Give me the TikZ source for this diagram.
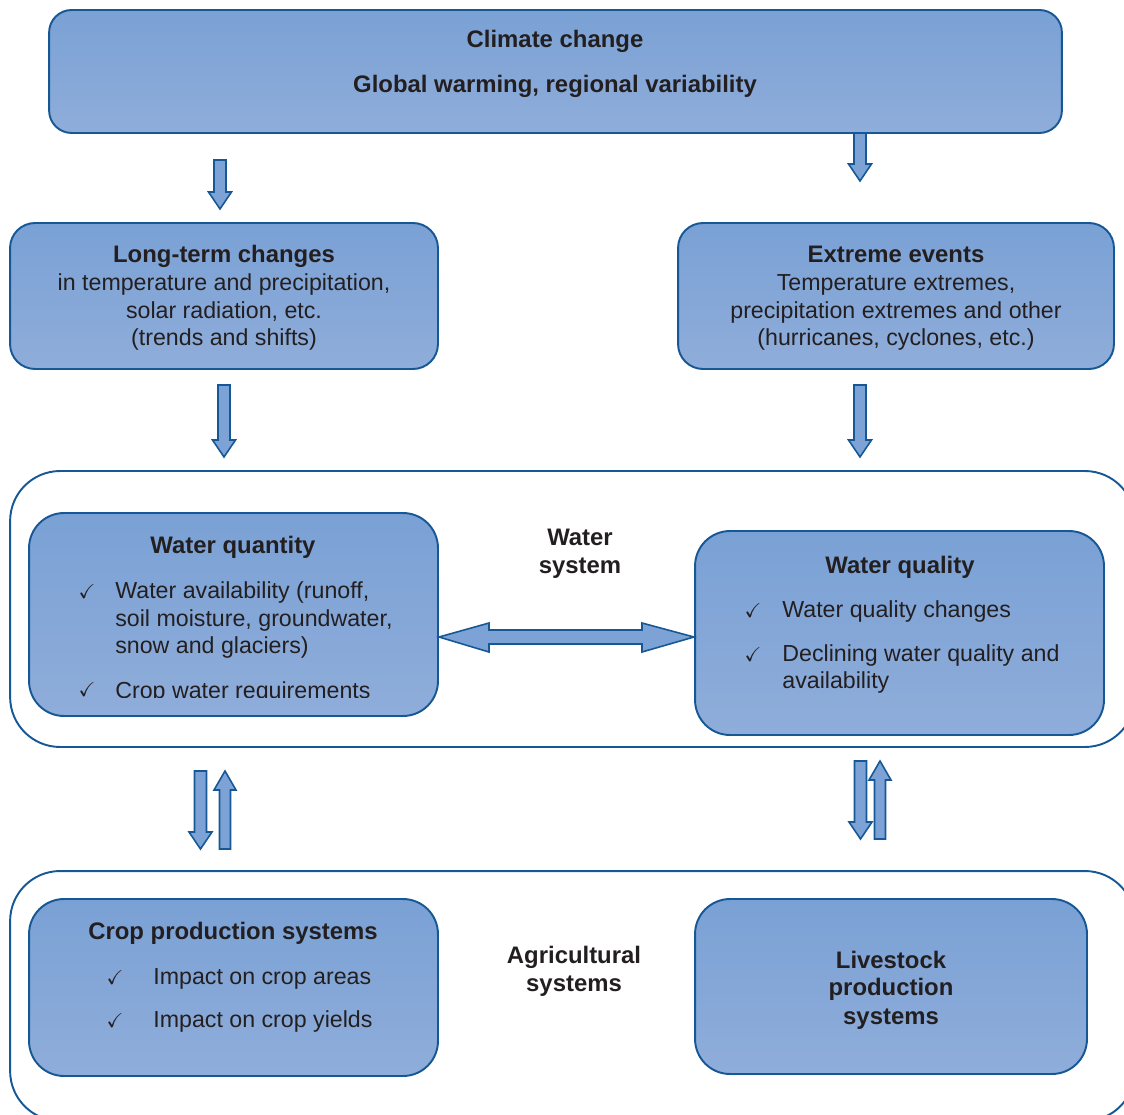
\documentclass[tikz,border=0pt]{standalone}
\usepackage{fontspec}
\setmainfont{Liberation Sans}
\usepackage{amssymb}
\usepackage{tikz}

\definecolor{boxline}{RGB}{22,88,150}
\definecolor{boxtop}{RGB}{122,161,213}
\definecolor{boxbot}{RGB}{143,173,218}
\definecolor{arrowfill}{RGB}{125,162,213}
\definecolor{txt}{RGB}{35,31,32}

\tikzset{
	panel/.style={draw=boxline, line width=1.1pt, top color=boxtop, bottom color=boxbot, rounded corners=0.7cm},
	frame/.style={draw=boxline, line width=1.1pt, rounded corners=1cm},
	blockarrow/.style={draw=boxline, line width=0.9pt, fill=arrowfill, line join=miter},
	lbl/.style={font=\fontsize{13.2}{15.8}\selectfont, text=txt, inner sep=0pt, yshift=-0.03cm},
	head/.style={lbl, font=\fontsize{13.6}{15.8}\selectfont\bfseries},
}

% block arrows: x, y of tail, y of tip
\newcommand{\dnarrow}[3]{\draw[blockarrow] (#1-6,#2) -- (#1+6,#2) -- (#1+6,#3-17) -- (#1+11.5,#3-17) -- (#1,#3) -- (#1-11.5,#3-17) -- (#1-6,#3-17) -- cycle;}
\newcommand{\uparrowblk}[3]{\draw[blockarrow] (#1-5.5,#2) -- (#1+5.5,#2) -- (#1+5.5,#3+19) -- (#1+11,#3+19) -- (#1,#3) -- (#1-11,#3+19) -- (#1-5.5,#3+19) -- cycle;}
\newcommand{\chk}{{\fontsize{11.5}{13}\selectfont$\checkmark$}}

\begin{document}
\begin{tikzpicture}[x=0.02cm, y=-0.02cm]
	\useasboundingbox (0,0) rectangle (1124,1114);
	\clip (0,0) rectangle (1124,1114);

	% outer frames
	\node[frame, minimum width=22.5cm, minimum height=5.52cm] (watersys) at (572.5,609) {};
	\node[frame, minimum width=22.5cm, minimum height=5cm] (agrisys) at (572.5,996) {};

	% boxes
	\node[panel, rounded corners=0.45cm, minimum width=20.26cm, minimum height=2.46cm] (climate) at (555.5,71.5) {};
	\node[panel, rounded corners=0.5cm, minimum width=8.56cm, minimum height=2.92cm] (longterm) at (224,296) {};
	\node[panel, rounded corners=0.5cm, minimum width=8.72cm, minimum height=2.92cm] (extreme) at (896,296) {};
	\node[panel, minimum width=8.18cm, minimum height=4.06cm] (quantity) at (233.5,614.5) {};
	\node[panel, minimum width=8.18cm, minimum height=4.08cm] (quality) at (899.5,633) {};
	\node[panel, minimum width=8.18cm, minimum height=3.54cm] (crop) at (233.5,987.5) {};
	\node[panel, minimum width=7.84cm, minimum height=3.5cm] (livestock) at (891,986.5) {};

	% arrows
	\dnarrow{220}{160}{209}
	\dnarrow{860}{133}{181}
	\dnarrow{224}{385}{457}
	\dnarrow{860}{385}{457}
	\dnarrow{200.5}{771}{849}
	\uparrowblk{225}{849}{771}
	\dnarrow{860.5}{761}{839}
	\uparrowblk{880}{839}{761}
	\draw[blockarrow] (439,637) -- (489,623) -- (489,630) -- (642,630) -- (642,623) -- (694,637) -- (642,652) -- (642,644) -- (489,644) -- (489,652) -- cycle;

	% climate
	\node[head, anchor=base] (cc1) at (555,46) {Climate change};
	\node[head, anchor=base] (cc2) at (555,91) {Global warming, regional variability};

	% long-term changes
	\node[head, anchor=base] (lt1) at (224,261) {Long-term changes};
	\node[lbl, anchor=base] (lt2) at (224,289) {in temperature and precipitation,};
	\node[lbl, anchor=base] (lt3) at (224,317) {solar radiation, etc.};
	\node[lbl, anchor=base] (lt4) at (224,344) {(trends and shifts)};

	% extreme events
	\node[head, anchor=base] (ex1) at (896,261) {Extreme events};
	\node[lbl, anchor=base] (ex2) at (896,289) {Temperature extremes,};
	\node[lbl, anchor=base] (ex3) at (896,317) {precipitation extremes and other};
	\node[lbl, anchor=base] (ex4) at (896,344) {(hurricanes, cyclones, etc.)};

	% water system
	\node[head, anchor=base] (ws1) at (580,544) {Water};
	\node[head, anchor=base] (ws2) at (580,572) {system};

	\node[head, anchor=base] (wq1) at (233,552) {Water quantity};
	\node[lbl, anchor=base] (wqc1) at (87,597) {\chk};
	\node[lbl, anchor=base west] (wq2) at (115,597) {Water availability (runoff,};
	\node[lbl, anchor=base west] (wq3) at (115,625) {soil moisture, groundwater,};
	\node[lbl, anchor=base west] (wq4) at (115,652) {snow and glaciers)};
	\begin{scope}
		\clip (29,600) rectangle (438,697);
		\node[lbl, anchor=base] (wqc2) at (87,695) {\chk};
		\node[lbl, anchor=base west] (wq5) at (115,697) {Crop water requirements};
	\end{scope}

	\node[head, anchor=base] (ql1) at (900,572) {Water quality};
	\node[lbl, anchor=base] (qlc1) at (753,616) {\chk};
	\node[lbl, anchor=base west] (ql2) at (782,616) {Water quality changes};
	\node[lbl, anchor=base] (qlc2) at (753,660) {\chk};
	\node[lbl, anchor=base west] (ql3) at (782,660) {Declining water quality and};
	\node[lbl, anchor=base west] (ql4) at (782,687) {availability};

	% agricultural systems
	\node[head, anchor=base] (ag1) at (574,962) {Agricultural};
	\node[head, anchor=base] (ag2) at (574,990) {systems};

	\node[head, anchor=base] (cp1) at (233,938) {Crop production systems};
	\node[lbl, anchor=base] (cpc1) at (115,983) {\chk};
	\node[lbl, anchor=base west] (cp2) at (153,983) {Impact on crop areas};
	\node[lbl, anchor=base] (cpc2) at (115,1026) {\chk};
	\node[lbl, anchor=base west] (cp3) at (153,1026) {Impact on crop yields};

	\node[head, anchor=base] (ls1) at (891,967) {Livestock};
	\node[head, anchor=base] (ls2) at (891,994) {production};
	\node[head, anchor=base] (ls3) at (891,1023) {systems};
\end{tikzpicture}
\end{document}
